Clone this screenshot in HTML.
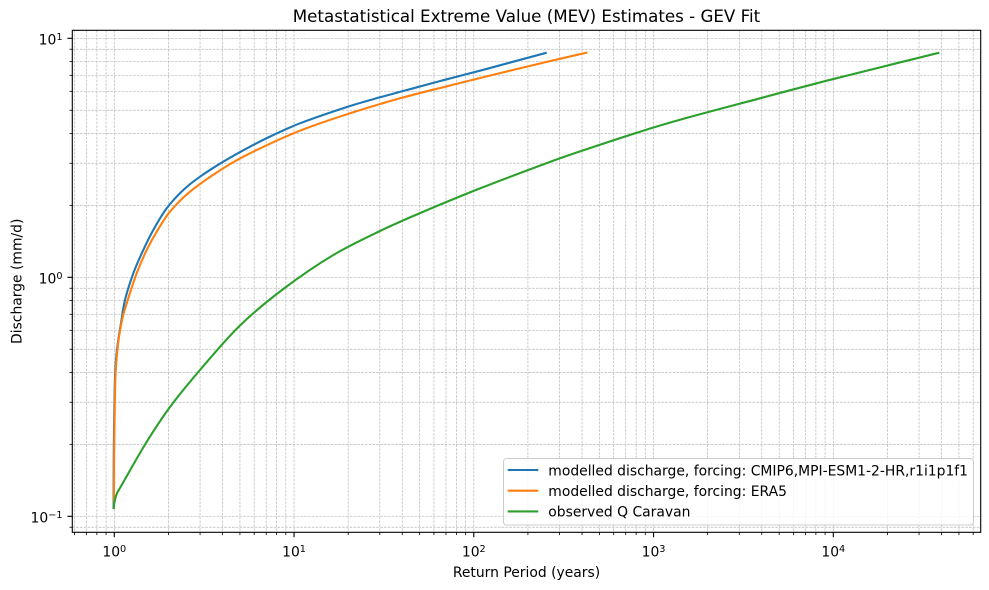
<!DOCTYPE html>
<html>
<head>
<meta charset="utf-8">
<style>
html,body{margin:0;padding:0;background:#fff;}
svg{display:block;}
text{font-family:"DejaVu Sans","Liberation Sans",sans-serif;fill:#000;}
</style>
</head>
<body>
<svg width="989" height="590" viewBox="0 0 989 590" xmlns="http://www.w3.org/2000/svg">
<rect x="0" y="0" width="989" height="590" fill="#fff"/>
<g stroke="#b8b8b8" stroke-width="0.7" stroke-dasharray="2.6,1.2" fill="none">
<line x1="114.3" y1="30.3" x2="114.3" y2="532.3"/>
<line x1="294.05" y1="30.3" x2="294.05" y2="532.3"/>
<line x1="473.8" y1="30.3" x2="473.8" y2="532.3"/>
<line x1="653.55" y1="30.3" x2="653.55" y2="532.3"/>
<line x1="833.3" y1="30.3" x2="833.3" y2="532.3"/>
<line x1="74.42" y1="30.3" x2="74.42" y2="532.3"/>
<line x1="86.46" y1="30.3" x2="86.46" y2="532.3"/>
<line x1="96.88" y1="30.3" x2="96.88" y2="532.3"/>
<line x1="106.07" y1="30.3" x2="106.07" y2="532.3"/>
<line x1="168.41" y1="30.3" x2="168.41" y2="532.3"/>
<line x1="200.06" y1="30.3" x2="200.06" y2="532.3"/>
<line x1="222.52" y1="30.3" x2="222.52" y2="532.3"/>
<line x1="239.94" y1="30.3" x2="239.94" y2="532.3"/>
<line x1="254.17" y1="30.3" x2="254.17" y2="532.3"/>
<line x1="266.21" y1="30.3" x2="266.21" y2="532.3"/>
<line x1="276.63" y1="30.3" x2="276.63" y2="532.3"/>
<line x1="285.82" y1="30.3" x2="285.82" y2="532.3"/>
<line x1="348.16" y1="30.3" x2="348.16" y2="532.3"/>
<line x1="379.81" y1="30.3" x2="379.81" y2="532.3"/>
<line x1="402.27" y1="30.3" x2="402.27" y2="532.3"/>
<line x1="419.69" y1="30.3" x2="419.69" y2="532.3"/>
<line x1="433.92" y1="30.3" x2="433.92" y2="532.3"/>
<line x1="445.96" y1="30.3" x2="445.96" y2="532.3"/>
<line x1="456.38" y1="30.3" x2="456.38" y2="532.3"/>
<line x1="465.57" y1="30.3" x2="465.57" y2="532.3"/>
<line x1="527.91" y1="30.3" x2="527.91" y2="532.3"/>
<line x1="559.56" y1="30.3" x2="559.56" y2="532.3"/>
<line x1="582.02" y1="30.3" x2="582.02" y2="532.3"/>
<line x1="599.44" y1="30.3" x2="599.44" y2="532.3"/>
<line x1="613.67" y1="30.3" x2="613.67" y2="532.3"/>
<line x1="625.71" y1="30.3" x2="625.71" y2="532.3"/>
<line x1="636.13" y1="30.3" x2="636.13" y2="532.3"/>
<line x1="645.32" y1="30.3" x2="645.32" y2="532.3"/>
<line x1="707.66" y1="30.3" x2="707.66" y2="532.3"/>
<line x1="739.31" y1="30.3" x2="739.31" y2="532.3"/>
<line x1="761.77" y1="30.3" x2="761.77" y2="532.3"/>
<line x1="779.19" y1="30.3" x2="779.19" y2="532.3"/>
<line x1="793.42" y1="30.3" x2="793.42" y2="532.3"/>
<line x1="805.46" y1="30.3" x2="805.46" y2="532.3"/>
<line x1="815.88" y1="30.3" x2="815.88" y2="532.3"/>
<line x1="825.07" y1="30.3" x2="825.07" y2="532.3"/>
<line x1="887.41" y1="30.3" x2="887.41" y2="532.3"/>
<line x1="919.06" y1="30.3" x2="919.06" y2="532.3"/>
<line x1="941.52" y1="30.3" x2="941.52" y2="532.3"/>
<line x1="958.94" y1="30.3" x2="958.94" y2="532.3"/>
<line x1="973.17" y1="30.3" x2="973.17" y2="532.3"/>
<line x1="72.3" y1="38.3" x2="980.7" y2="38.3"/>
<line x1="72.3" y1="277.3" x2="980.7" y2="277.3"/>
<line x1="72.3" y1="516.3" x2="980.7" y2="516.3"/>
<line x1="72.3" y1="527.24" x2="980.7" y2="527.24"/>
<line x1="72.3" y1="444.35" x2="980.7" y2="444.35"/>
<line x1="72.3" y1="402.27" x2="980.7" y2="402.27"/>
<line x1="72.3" y1="372.41" x2="980.7" y2="372.41"/>
<line x1="72.3" y1="349.25" x2="980.7" y2="349.25"/>
<line x1="72.3" y1="330.32" x2="980.7" y2="330.32"/>
<line x1="72.3" y1="314.32" x2="980.7" y2="314.32"/>
<line x1="72.3" y1="300.46" x2="980.7" y2="300.46"/>
<line x1="72.3" y1="288.24" x2="980.7" y2="288.24"/>
<line x1="72.3" y1="205.35" x2="980.7" y2="205.35"/>
<line x1="72.3" y1="163.27" x2="980.7" y2="163.27"/>
<line x1="72.3" y1="133.41" x2="980.7" y2="133.41"/>
<line x1="72.3" y1="110.25" x2="980.7" y2="110.25"/>
<line x1="72.3" y1="91.32" x2="980.7" y2="91.32"/>
<line x1="72.3" y1="75.32" x2="980.7" y2="75.32"/>
<line x1="72.3" y1="61.46" x2="980.7" y2="61.46"/>
<line x1="72.3" y1="49.24" x2="980.7" y2="49.24"/>
</g>

<g fill="none" stroke-width="2.1" stroke-linejoin="round" stroke-linecap="butt">
<polyline class="s" stroke="#1f77b4" points="113.6,509 113.7,470 114.0,430 114.5,400 115.1,375 116.4,355 118.3,340 121,323 125,300 133.3,273.3 143.3,250 153.3,230 166.7,208.3 183.3,190 200,176.7 223.3,161.7 250,146.7 273.3,135 300,123.3 350,106 380,97.3 413.3,88.3 446.7,79.3 480,70.7 513.3,61.7 546.7,52.7"/>
<polyline class="s" stroke="#ff7f0e" points="114.0,509 114.1,470 114.4,430 114.9,400 115.6,373 117.2,352 119.3,335 122.5,318 126.7,303.3 136.7,273.3 146.7,250 156.7,231.7 170,211.7 190,191.7 223.3,168.3 250,153.3 300,130.7 350,113.3 400,98.3 450,85.5 500,73.1 546.7,61.9 587.3,52.5"/>
<polyline class="s" stroke="#2ca02c" points="113.5,509 114.5,502 116.7,494 120,488 146,443 170,407 200,370 240,325.5 283.3,289 333.3,255 381,230.5 420,213.1 480,188.4 546.7,163.1 580,151.4 640,131.7 680,119.7 760,98.3 826.7,80.7 939.3,52.7"/>
</g>

<rect x="72.3" y="30.3" width="908.4" height="502" fill="none" stroke="#000" stroke-width="1.1"/>

<g stroke="#000" stroke-width="1.1">
<line x1="114.3" y1="532.3" x2="114.3" y2="537.2"/>
<line x1="294.05" y1="532.3" x2="294.05" y2="537.2"/>
<line x1="473.8" y1="532.3" x2="473.8" y2="537.2"/>
<line x1="653.55" y1="532.3" x2="653.55" y2="537.2"/>
<line x1="833.3" y1="532.3" x2="833.3" y2="537.2"/>
<line x1="67.4" y1="38.3" x2="72.3" y2="38.3"/>
<line x1="67.4" y1="277.3" x2="72.3" y2="277.3"/>
<line x1="67.4" y1="516.3" x2="72.3" y2="516.3"/>
</g>
<g stroke="#000" stroke-width="0.8">
<line x1="74.42" y1="532.3" x2="74.42" y2="535.1"/>
<line x1="86.46" y1="532.3" x2="86.46" y2="535.1"/>
<line x1="96.88" y1="532.3" x2="96.88" y2="535.1"/>
<line x1="106.07" y1="532.3" x2="106.07" y2="535.1"/>
<line x1="168.41" y1="532.3" x2="168.41" y2="535.1"/>
<line x1="200.06" y1="532.3" x2="200.06" y2="535.1"/>
<line x1="222.52" y1="532.3" x2="222.52" y2="535.1"/>
<line x1="239.94" y1="532.3" x2="239.94" y2="535.1"/>
<line x1="254.17" y1="532.3" x2="254.17" y2="535.1"/>
<line x1="266.21" y1="532.3" x2="266.21" y2="535.1"/>
<line x1="276.63" y1="532.3" x2="276.63" y2="535.1"/>
<line x1="285.82" y1="532.3" x2="285.82" y2="535.1"/>
<line x1="348.16" y1="532.3" x2="348.16" y2="535.1"/>
<line x1="379.81" y1="532.3" x2="379.81" y2="535.1"/>
<line x1="402.27" y1="532.3" x2="402.27" y2="535.1"/>
<line x1="419.69" y1="532.3" x2="419.69" y2="535.1"/>
<line x1="433.92" y1="532.3" x2="433.92" y2="535.1"/>
<line x1="445.96" y1="532.3" x2="445.96" y2="535.1"/>
<line x1="456.38" y1="532.3" x2="456.38" y2="535.1"/>
<line x1="465.57" y1="532.3" x2="465.57" y2="535.1"/>
<line x1="527.91" y1="532.3" x2="527.91" y2="535.1"/>
<line x1="559.56" y1="532.3" x2="559.56" y2="535.1"/>
<line x1="582.02" y1="532.3" x2="582.02" y2="535.1"/>
<line x1="599.44" y1="532.3" x2="599.44" y2="535.1"/>
<line x1="613.67" y1="532.3" x2="613.67" y2="535.1"/>
<line x1="625.71" y1="532.3" x2="625.71" y2="535.1"/>
<line x1="636.13" y1="532.3" x2="636.13" y2="535.1"/>
<line x1="645.32" y1="532.3" x2="645.32" y2="535.1"/>
<line x1="707.66" y1="532.3" x2="707.66" y2="535.1"/>
<line x1="739.31" y1="532.3" x2="739.31" y2="535.1"/>
<line x1="761.77" y1="532.3" x2="761.77" y2="535.1"/>
<line x1="779.19" y1="532.3" x2="779.19" y2="535.1"/>
<line x1="793.42" y1="532.3" x2="793.42" y2="535.1"/>
<line x1="805.46" y1="532.3" x2="805.46" y2="535.1"/>
<line x1="815.88" y1="532.3" x2="815.88" y2="535.1"/>
<line x1="825.07" y1="532.3" x2="825.07" y2="535.1"/>
<line x1="887.41" y1="532.3" x2="887.41" y2="535.1"/>
<line x1="919.06" y1="532.3" x2="919.06" y2="535.1"/>
<line x1="941.52" y1="532.3" x2="941.52" y2="535.1"/>
<line x1="958.94" y1="532.3" x2="958.94" y2="535.1"/>
<line x1="973.17" y1="532.3" x2="973.17" y2="535.1"/>
<line x1="69.5" y1="527.24" x2="72.3" y2="527.24"/>
<line x1="69.5" y1="444.35" x2="72.3" y2="444.35"/>
<line x1="69.5" y1="402.27" x2="72.3" y2="402.27"/>
<line x1="69.5" y1="372.41" x2="72.3" y2="372.41"/>
<line x1="69.5" y1="349.25" x2="72.3" y2="349.25"/>
<line x1="69.5" y1="330.32" x2="72.3" y2="330.32"/>
<line x1="69.5" y1="314.32" x2="72.3" y2="314.32"/>
<line x1="69.5" y1="300.46" x2="72.3" y2="300.46"/>
<line x1="69.5" y1="288.24" x2="72.3" y2="288.24"/>
<line x1="69.5" y1="205.35" x2="72.3" y2="205.35"/>
<line x1="69.5" y1="163.27" x2="72.3" y2="163.27"/>
<line x1="69.5" y1="133.41" x2="72.3" y2="133.41"/>
<line x1="69.5" y1="110.25" x2="72.3" y2="110.25"/>
<line x1="69.5" y1="91.32" x2="72.3" y2="91.32"/>
<line x1="69.5" y1="75.32" x2="72.3" y2="75.32"/>
<line x1="69.5" y1="61.46" x2="72.3" y2="61.46"/>
<line x1="69.5" y1="49.24" x2="72.3" y2="49.24"/>
</g>

<g font-size="13.9" text-anchor="middle">
<text x="114.3" y="556.5">10<tspan dy="-4.5" font-size="9.7">0</tspan></text>
<text x="294.05" y="556.5">10<tspan dy="-4.5" font-size="9.7">1</tspan></text>
<text x="473.8" y="556.5">10<tspan dy="-4.5" font-size="9.7">2</tspan></text>
<text x="653.55" y="556.5">10<tspan dy="-4.5" font-size="9.7">3</tspan></text>
<text x="833.3" y="556.5">10<tspan dy="-4.5" font-size="9.7">4</tspan></text>
</g>
<g font-size="13.9" text-anchor="end">
<text x="62.5" y="44.5">10<tspan dy="-4.5" font-size="9.7">1</tspan></text>
<text x="62.5" y="283.5">10<tspan dy="-4.5" font-size="9.7">0</tspan></text>
<text x="62.5" y="522.5">10<tspan dy="-4.5" font-size="9.7">−1</tspan></text>
</g>

<text x="526.5" y="577" font-size="13.9" text-anchor="middle">Return Period (years)</text>
<text transform="translate(21.5,281.3) rotate(-90)" font-size="13.9" text-anchor="middle">Discharge (mm/d)</text>
<text x="526.5" y="22" font-size="16.7" text-anchor="middle">Metastatistical Extreme Value (MEV) Estimates - GEV Fit</text>

<rect x="503.5" y="458.5" width="470" height="66.5" rx="3" ry="3" fill="#fff" fill-opacity="0.8" stroke="#cccccc" stroke-width="1"/>
<g stroke-width="2.1">
<line x1="507.7" y1="470" x2="538.3" y2="470" stroke="#1f77b4"/>
<line x1="507.7" y1="490.7" x2="538.3" y2="490.7" stroke="#ff7f0e"/>
<line x1="507.7" y1="511.4" x2="538.3" y2="511.4" stroke="#2ca02c"/>
</g>
<g font-size="13.9">
<text x="548.3" y="475.3">modelled discharge, forcing: CMIP6,MPI-ESM1-2-HR,r1i1p1f1</text>
<text x="548.3" y="496">modelled discharge, forcing: ERA5</text>
<text x="548.3" y="516.7">observed Q Caravan</text>
</g>
</svg>
<script>
(function(){
  try {
    var ns = "http://www.w3.org/2000/svg";
    var pls = document.querySelectorAll("polyline.s");
    var dist = function(a, b){ var dx=a[0]-b[0], dy=a[1]-b[1]; return Math.sqrt(dx*dx+dy*dy); };
    for (var k = 0; k < pls.length; k++) {
      var pl = pls[k];
      var raw = pl.getAttribute("points").trim().split(/\s+/);
      var P = [];
      for (var i = 0; i < raw.length; i++) {
        var xy = raw[i].split(",");
        P.push([parseFloat(xy[0]), parseFloat(xy[1])]);
      }
      var n = P.length;
      var d = "M" + P[0][0] + "," + P[0][1];
      for (var j = 0; j < n - 1; j++) {
        var p0 = P[j-1] || P[j], p1 = P[j], p2 = P[j+1], p3 = P[j+2] || P[j+1];
        var d01 = dist(p0,p1), d12 = dist(p1,p2), d23 = dist(p2,p3);
        var f1, f2, t1x, t1y, t2x, t2y;
        if (j === 0) { f1 = 1/3; t1x = p2[0]-p1[0]; t1y = p2[1]-p1[1]; }
        else { f1 = d12 / (3 * (d01 + d12)); t1x = p2[0]-p0[0]; t1y = p2[1]-p0[1]; }
        if (j === n - 2) { f2 = 1/3; t2x = p2[0]-p1[0]; t2y = p2[1]-p1[1]; }
        else { f2 = d12 / (3 * (d12 + d23)); t2x = p3[0]-p1[0]; t2y = p3[1]-p1[1]; }
        var c1x = p1[0] + t1x * f1, c1y = p1[1] + t1y * f1;
        var c2x = p2[0] - t2x * f2, c2y = p2[1] - t2y * f2;
        d += " C" + c1x.toFixed(2) + "," + c1y.toFixed(2) + " " + c2x.toFixed(2) + "," + c2y.toFixed(2) + " " + p2[0] + "," + p2[1];
      }
      var path = document.createElementNS(ns, "path");
      path.setAttribute("d", d);
      path.setAttribute("stroke", pl.getAttribute("stroke"));
      path.setAttribute("fill", "none");
      pl.parentNode.replaceChild(path, pl);
    }
  } catch (e) {}
})();
</script>
</body>
</html>
